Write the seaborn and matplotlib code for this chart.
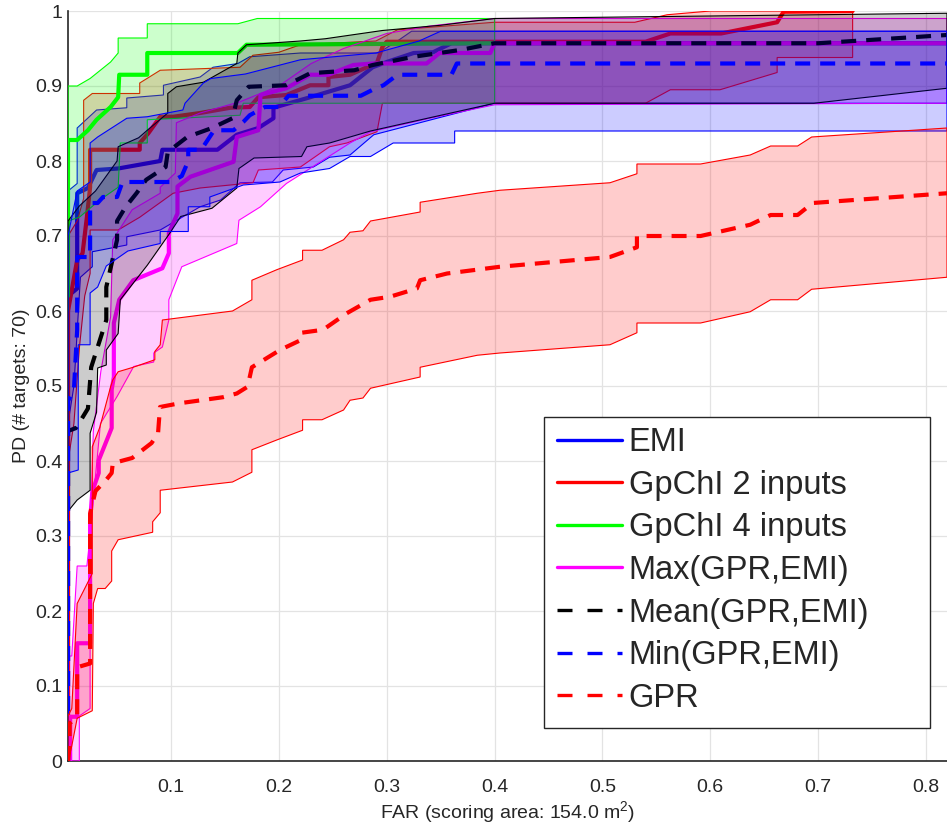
import matplotlib
matplotlib.use("Agg")
import matplotlib.pyplot as plt
from matplotlib.patches import Rectangle
import numpy as np
import seaborn as sns

# ---- data (FAR, PD) ----
# EMI
emi_x = [0.0045, 0.0045, 0.013, 0.013, 0.023, 0.031, 0.051, 0.09, 0.092, 0.143, 0.161, 0.181, 0.195, 0.195,
         0.229, 0.266, 0.287, 0.3, 0.325, 0.343, 0.36, 0.8195]
emi_y = [0.0, 0.62, 0.63, 0.757, 0.764, 0.788, 0.79, 0.8, 0.815, 0.815, 0.835, 0.844, 0.857, 0.871,
         0.885, 0.901, 0.925, 0.932, 0.944, 0.945, 0.957, 0.957]
emi_lo_x = [0.0045, 0.0045, 0.01, 0.016, 0.027, 0.027, 0.059, 0.059, 0.09, 0.127, 0.146, 0.164, 0.194,
            0.204, 0.232, 0.247, 0.266, 0.288, 0.4, 0.8195]
emi_lo_y = [0.0, 0.45, 0.5, 0.645, 0.659, 0.679, 0.688, 0.699, 0.708, 0.739, 0.748, 0.771, 0.772,
            0.788, 0.792, 0.805, 0.808, 0.835, 0.877, 0.877]
emi_hi_x = [0.0045, 0.013, 0.013, 0.031, 0.059, 0.059, 0.093, 0.093, 0.127, 0.139, 0.162, 0.173, 0.22,
            0.292, 0.31, 0.323, 0.8195]
emi_hi_y = [0.76, 0.77, 0.844, 0.868, 0.871, 0.884, 0.888, 0.901, 0.912, 0.925, 0.93, 0.939, 0.944,
            0.944, 0.96, 0.973, 0.973]

# GpChI 2 inputs
gp2_x = [0.0045, 0.0045, 0.008, 0.013, 0.018, 0.022, 0.025, 0.025, 0.071, 0.071, 0.079, 0.09, 0.102,
         0.127, 0.155, 0.173, 0.181, 0.207, 0.229, 0.246, 0.246, 0.266, 0.291, 0.296, 0.3, 0.54, 0.563,
         0.61, 0.662, 0.668, 0.732]
gp2_y = [0.0, 0.6, 0.628, 0.668, 0.677, 0.725, 0.765, 0.815, 0.815, 0.824, 0.837, 0.859, 0.859,
         0.864, 0.871, 0.872, 0.885, 0.888, 0.901, 0.901, 0.912, 0.915, 0.931, 0.952, 0.959, 0.959, 0.97,
         0.97, 0.985, 0.999, 1.0]
gp2_lo_x = [0.0045, 0.0045, 0.01, 0.015, 0.02, 0.025, 0.025, 0.051, 0.071, 0.102, 0.127, 0.176, 0.181,
            0.22, 0.247, 0.263, 0.291, 0.296, 0.54, 0.563, 0.609, 0.662, 0.662, 0.732]
gp2_lo_y = [0.0, 0.4, 0.45, 0.55, 0.62, 0.65, 0.708, 0.708, 0.725, 0.757, 0.764, 0.771, 0.788,
            0.792, 0.819, 0.824, 0.839, 0.877, 0.877, 0.895, 0.895, 0.918, 0.938, 0.938]
gp2_hi_x = [0.0045, 0.0045, 0.013, 0.019, 0.019, 0.027, 0.071, 0.071, 0.09, 0.164, 0.176, 0.2, 0.22,
            0.29, 0.31, 0.4, 0.53, 0.56, 0.6, 0.732]
gp2_hi_y = [0.6, 0.7, 0.72, 0.75, 0.881, 0.89, 0.89, 0.904, 0.921, 0.925, 0.941, 0.945, 0.955,
            0.96, 0.975, 0.985, 0.985, 0.995, 1.0, 1.0]

# GpChI 4 inputs
gp4_x = [0.0045, 0.0045, 0.013, 0.023, 0.031, 0.044, 0.051, 0.052, 0.078, 0.078, 0.162, 0.17, 0.4]
gp4_y = [0.62, 0.828, 0.828, 0.841, 0.855, 0.872, 0.885, 0.915, 0.915, 0.944, 0.944, 0.955, 0.957]
gp4_lo_x = [0.0045, 0.0045, 0.015, 0.034, 0.043, 0.051, 0.053, 0.078, 0.078, 0.164, 0.167, 0.4]
gp4_lo_y = [0.6, 0.72, 0.725, 0.748, 0.757, 0.765, 0.824, 0.824, 0.855, 0.861, 0.877, 0.877]
gp4_hi_x = [0.0045, 0.013, 0.025, 0.044, 0.051, 0.051, 0.078, 0.078, 0.162, 0.18, 0.4]
gp4_hi_y = [0.9, 0.9, 0.91, 0.932, 0.944, 0.964, 0.964, 0.983, 0.983, 0.99, 0.99]

# Max(GPR,EMI)
max_x = [0.0045, 0.0065, 0.0065, 0.013, 0.013, 0.025, 0.025, 0.027, 0.033, 0.033, 0.045, 0.045, 0.047,
         0.047, 0.052, 0.065, 0.092, 0.098, 0.098, 0.106, 0.106, 0.118, 0.158, 0.161, 0.181, 0.183,
         0.207, 0.229, 0.246, 0.269, 0.287, 0.337, 0.349, 0.396, 0.4, 0.8195]
max_y = [0.0, 0.0, 0.059, 0.059, 0.157, 0.157, 0.32, 0.359, 0.384, 0.401, 0.444, 0.495, 0.512,
         0.584, 0.615, 0.641, 0.657, 0.677, 0.704, 0.73, 0.766, 0.779, 0.799, 0.832, 0.841, 0.888,
         0.897, 0.915, 0.915, 0.928, 0.93, 0.93, 0.944, 0.944, 0.957, 0.957]
max_lo_x = [0.0045, 0.015, 0.015, 0.025, 0.025, 0.03, 0.0346, 0.05, 0.0654, 0.084, 0.084, 0.092, 0.098,
            0.098, 0.11, 0.161, 0.163, 0.183, 0.207, 0.266, 0.285, 0.34, 0.4, 0.8195]
max_lo_y = [0.0, 0.0, 0.06, 0.07, 0.3, 0.38, 0.45, 0.486, 0.526, 0.532, 0.544, 0.552, 0.588,
            0.615, 0.659, 0.69, 0.721, 0.739, 0.77, 0.824, 0.839, 0.857, 0.875, 0.877]
max_hi_x = [0.0045, 0.0045, 0.008, 0.013, 0.022, 0.025, 0.028, 0.035, 0.04, 0.044, 0.046, 0.064, 0.09,
            0.09, 0.104, 0.105, 0.127, 0.164, 0.2, 0.23, 0.26, 0.3, 0.34, 0.4, 0.8195]
max_hi_y = [0.0, 0.14, 0.14, 0.26, 0.26, 0.3, 0.44, 0.52, 0.56, 0.592, 0.695, 0.735, 0.757,
            0.765, 0.784, 0.851, 0.864, 0.879, 0.9, 0.93, 0.95, 0.97, 0.98, 0.99, 0.99]

# Mean(GPR,EMI)
mean_x = [0.0045, 0.0045, 0.012, 0.023, 0.026, 0.032, 0.04, 0.04, 0.05, 0.05, 0.058, 0.068, 0.077,
          0.095, 0.097, 0.115, 0.138, 0.157, 0.161, 0.172, 0.207, 0.229, 0.27, 0.287, 0.325, 0.368,
          0.4, 0.7, 0.8195]
mean_y = [0.0, 0.44, 0.444, 0.47, 0.525, 0.552, 0.588, 0.632, 0.695, 0.72, 0.739, 0.757, 0.775,
          0.792, 0.812, 0.832, 0.844, 0.857, 0.881, 0.899, 0.901, 0.917, 0.921, 0.928, 0.939, 0.948,
          0.957, 0.957, 0.968]
mean_lo_x = [0.0045, 0.013, 0.025, 0.025, 0.031, 0.032, 0.04, 0.04, 0.051, 0.053, 0.078, 0.099, 0.109,
             0.138, 0.161, 0.163, 0.177, 0.221, 0.226, 0.247, 0.285, 0.4, 0.696, 0.8195]
mean_lo_y = [0.333, 0.348, 0.361, 0.437, 0.465, 0.524, 0.528, 0.548, 0.57, 0.615, 0.661, 0.704, 0.726,
             0.737, 0.764, 0.79, 0.804, 0.806, 0.819, 0.824, 0.84, 0.877, 0.877, 0.897]
mean_hi_x = [0.0045, 0.0045, 0.015, 0.03, 0.045, 0.05, 0.051, 0.07, 0.078, 0.097, 0.097, 0.105, 0.13,
             0.161, 0.162, 0.17, 0.22, 0.243, 0.296, 0.35, 0.4, 0.8195]
mean_hi_y = [0.55, 0.72, 0.74, 0.76, 0.79, 0.8, 0.819, 0.831, 0.841, 0.864, 0.89, 0.899, 0.905,
             0.93, 0.944, 0.955, 0.96, 0.963, 0.974, 0.981, 0.99, 0.997]

# Min(GPR,EMI)
min_x = [0.0045, 0.0045, 0.01, 0.013, 0.013, 0.025, 0.025, 0.032, 0.037, 0.05, 0.055, 0.1, 0.11,
         0.116, 0.116, 0.128, 0.134, 0.14, 0.158, 0.167, 0.173, 0.187, 0.2, 0.209, 0.276, 0.287, 0.297,
         0.31, 0.36, 0.365, 0.8195]
min_y = [0.0, 0.48, 0.495, 0.575, 0.672, 0.672, 0.744, 0.744, 0.752, 0.752, 0.772, 0.772, 0.78,
         0.8, 0.815, 0.815, 0.828, 0.841, 0.841, 0.852, 0.861, 0.872, 0.872, 0.887, 0.887, 0.895, 0.901,
         0.915, 0.915, 0.93, 0.93]
min_lo_x = [0.0045, 0.0045, 0.014, 0.014, 0.025, 0.025, 0.032, 0.04, 0.06, 0.09, 0.09, 0.116, 0.116,
            0.136, 0.136, 0.167, 0.201, 0.22, 0.247, 0.266, 0.285, 0.306, 0.363, 0.363, 0.8195]
min_lo_y = [0.0, 0.384, 0.388, 0.555, 0.555, 0.624, 0.632, 0.66, 0.68, 0.69, 0.706, 0.706, 0.739,
            0.739, 0.752, 0.768, 0.772, 0.784, 0.79, 0.806, 0.806, 0.824, 0.824, 0.84, 0.84]
min_hi_x = [0.0045, 0.013, 0.025, 0.025, 0.032, 0.059, 0.078, 0.111, 0.113, 0.13, 0.137, 0.169, 0.22,
            0.29, 0.33, 0.35, 0.8195]
min_hi_y = [0.7, 0.76, 0.772, 0.824, 0.832, 0.857, 0.859, 0.868, 0.877, 0.904, 0.91, 0.916, 0.935,
            0.944, 0.96, 0.973, 0.973]

# GPR
gpr_x = [0.0045, 0.006, 0.006, 0.013, 0.013, 0.025, 0.025, 0.03, 0.04, 0.045, 0.046, 0.064, 0.082,
         0.088, 0.0898, 0.108, 0.148, 0.161, 0.171, 0.175, 0.201, 0.22, 0.221, 0.241, 0.263, 0.285,
         0.303, 0.328, 0.331, 0.356, 0.405, 0.507, 0.532, 0.532, 0.591, 0.637, 0.656, 0.681, 0.695, 0.8195]
gpr_y = [0.0, 0.02, 0.05, 0.06, 0.125, 0.13, 0.33, 0.36, 0.375, 0.384, 0.397, 0.404, 0.424,
         0.437, 0.472, 0.477, 0.485, 0.49, 0.499, 0.525, 0.548, 0.561, 0.571, 0.575, 0.597, 0.615,
         0.619, 0.63, 0.641, 0.65, 0.659, 0.672, 0.685, 0.70, 0.70, 0.715, 0.728, 0.728, 0.744, 0.757]
gpr_lo_x = [0.0045, 0.008, 0.013, 0.027, 0.028, 0.032, 0.039, 0.045, 0.045, 0.051, 0.083, 0.083, 0.09,
            0.09, 0.157, 0.175, 0.175, 0.198, 0.222, 0.222, 0.24, 0.26, 0.266, 0.278, 0.285, 0.331,
            0.331, 0.384, 0.405, 0.507, 0.532, 0.532, 0.591, 0.637, 0.656, 0.681, 0.694, 0.8195]
gpr_lo_y = [0.0, 0.02, 0.057, 0.067, 0.21, 0.23, 0.23, 0.24, 0.28, 0.295, 0.305, 0.319, 0.331,
            0.361, 0.372, 0.385, 0.415, 0.428, 0.441, 0.455, 0.455, 0.468, 0.481, 0.484, 0.497, 0.512,
            0.525, 0.541, 0.544, 0.555, 0.571, 0.584, 0.584, 0.599, 0.615, 0.615, 0.629, 0.645]
gpr_hi_x = [0.0045, 0.0045, 0.008, 0.013, 0.027, 0.027, 0.034, 0.044, 0.046, 0.051, 0.065, 0.085, 0.085,
            0.09, 0.092, 0.157, 0.175, 0.175, 0.198, 0.222, 0.222, 0.24, 0.26, 0.266, 0.278, 0.285,
            0.331, 0.331, 0.384, 0.405, 0.507, 0.532, 0.532, 0.591, 0.637, 0.656, 0.681, 0.694, 0.8195]
gpr_hi_y = [0.0, 0.06, 0.07, 0.21, 0.25, 0.419, 0.445, 0.499, 0.508, 0.519, 0.525, 0.535, 0.546,
            0.555, 0.588, 0.6, 0.615, 0.641, 0.655, 0.668, 0.681, 0.681, 0.695, 0.705, 0.707, 0.72,
            0.732, 0.745, 0.757, 0.761, 0.771, 0.783, 0.796, 0.796, 0.808, 0.82, 0.82, 0.832, 0.844]

labels = ["EMI", "GpChI 2 inputs", "GpChI 4 inputs", "Max(GPR,EMI)",
          "Mean(GPR,EMI)", "Min(GPR,EMI)", "GPR"]
colors = [(0, 0, 1), (1, 0, 0), (0, 1, 0), (1, 0, 1), (0, 0, 0), (0, 0, 1), (1, 0, 0)]
styles = ["-", "-", "-", "-", "--", "--", "--"]

curves = [
    (emi_x, emi_y, emi_lo_x, emi_lo_y, emi_hi_x, emi_hi_y),
    (gp2_x, gp2_y, gp2_lo_x, gp2_lo_y, gp2_hi_x, gp2_hi_y),
    (gp4_x, gp4_y, gp4_lo_x, gp4_lo_y, gp4_hi_x, gp4_hi_y),
    (max_x, max_y, max_lo_x, max_lo_y, max_hi_x, max_hi_y),
    (mean_x, mean_y, mean_lo_x, mean_lo_y, mean_hi_x, mean_hi_y),
    (min_x, min_y, min_lo_x, min_lo_y, min_hi_x, min_hi_y),
    (gpr_x, gpr_y, gpr_lo_x, gpr_lo_y, gpr_hi_x, gpr_hi_y),
]

sns.set_style("white")
plt.rcParams["font.family"] = ["Liberation Sans", "DejaVu Sans"]
plt.rcParams["mathtext.default"] = "regular"

fig = plt.figure(figsize=(9.47, 8.27), dpi=100)
ax = fig.add_axes([68 / 947, 66 / 827, 879 / 947, 750 / 827])

handles = []
for i, (lab, col, ls, c) in enumerate(zip(labels, colors, styles, curves)):
    mx, my, lx, ly, hx, hy = c
    # median curve first, then its band, so later bands tint earlier lines
    sns.lineplot(x=mx, y=my, sort=False, estimator=None, color=col, linewidth=3,
                 linestyle=ls, ax=ax, zorder=3 + 2 * i)
    line = ax.lines[-1]
    if ls == "--":
        line.set_dashes((3.6, 2.4))
    line.set_label(lab)
    handles.append(line)
    px = list(hx) + list(lx)[::-1]
    py = list(hy) + list(ly)[::-1]
    ax.fill(px, py, facecolor=col + (0.2,), edgecolor=col, linewidth=0.8, zorder=4 + 2 * i)

ax.set_xlim(0.0045, 0.8195)
ax.set_ylim(0, 1)
ax.set_xticks(np.arange(0.1, 0.81, 0.1))
ax.set_xticklabels([f"{v:.1f}" for v in np.arange(0.1, 0.81, 0.1)])
ax.set_yticks(np.arange(0, 1.01, 0.1))
ax.set_yticklabels(["0"] + [f"{v:.1f}" for v in np.arange(0.1, 0.95, 0.1)] + ["1"])
ax.grid(True, color="#e3e3e3", linewidth=0.9)
ax.set_axisbelow(True)
for s in ["top", "right"]:
    ax.spines[s].set_visible(False)
for s in ["left", "bottom"]:
    ax.spines[s].set_color("#262626")
    ax.spines[s].set_linewidth(1.2)
ax.tick_params(direction="in", length=7, width=0.8, colors="#262626", labelsize=14)
ax.tick_params(axis="x", pad=13)
ax.tick_params(axis="y", pad=4)
ax.set_xlabel("FAR (scoring area: 154.0 m$^2$)", fontsize=14, color="#262626", labelpad=2)
ax.set_ylabel("PD (# targets: 70)", fontsize=14, color="#262626", labelpad=4)

# legend box drawn separately (MATLAB leaves extra room on the right)
ax.add_patch(Rectangle((0.5415, 0.044), 0.4392, 0.4147, transform=ax.transAxes,
                       facecolor="white", edgecolor="#262626", linewidth=1.0, zorder=49))
leg = ax.legend(handles=handles, loc="upper left", bbox_to_anchor=(0.5563, 0.4453),
                fontsize=23.5, handlelength=2.0, handletextpad=0.2, labelspacing=0.356,
                borderpad=0, borderaxespad=0, frameon=False)
leg.set_zorder(50)
for h, ls in zip(leg.get_lines(), styles):
    h.set_linewidth(2.4)
    if ls == "--":
        h.set_dashes((4.5, 4.5))

fig.savefig("out.png", dpi=100)
